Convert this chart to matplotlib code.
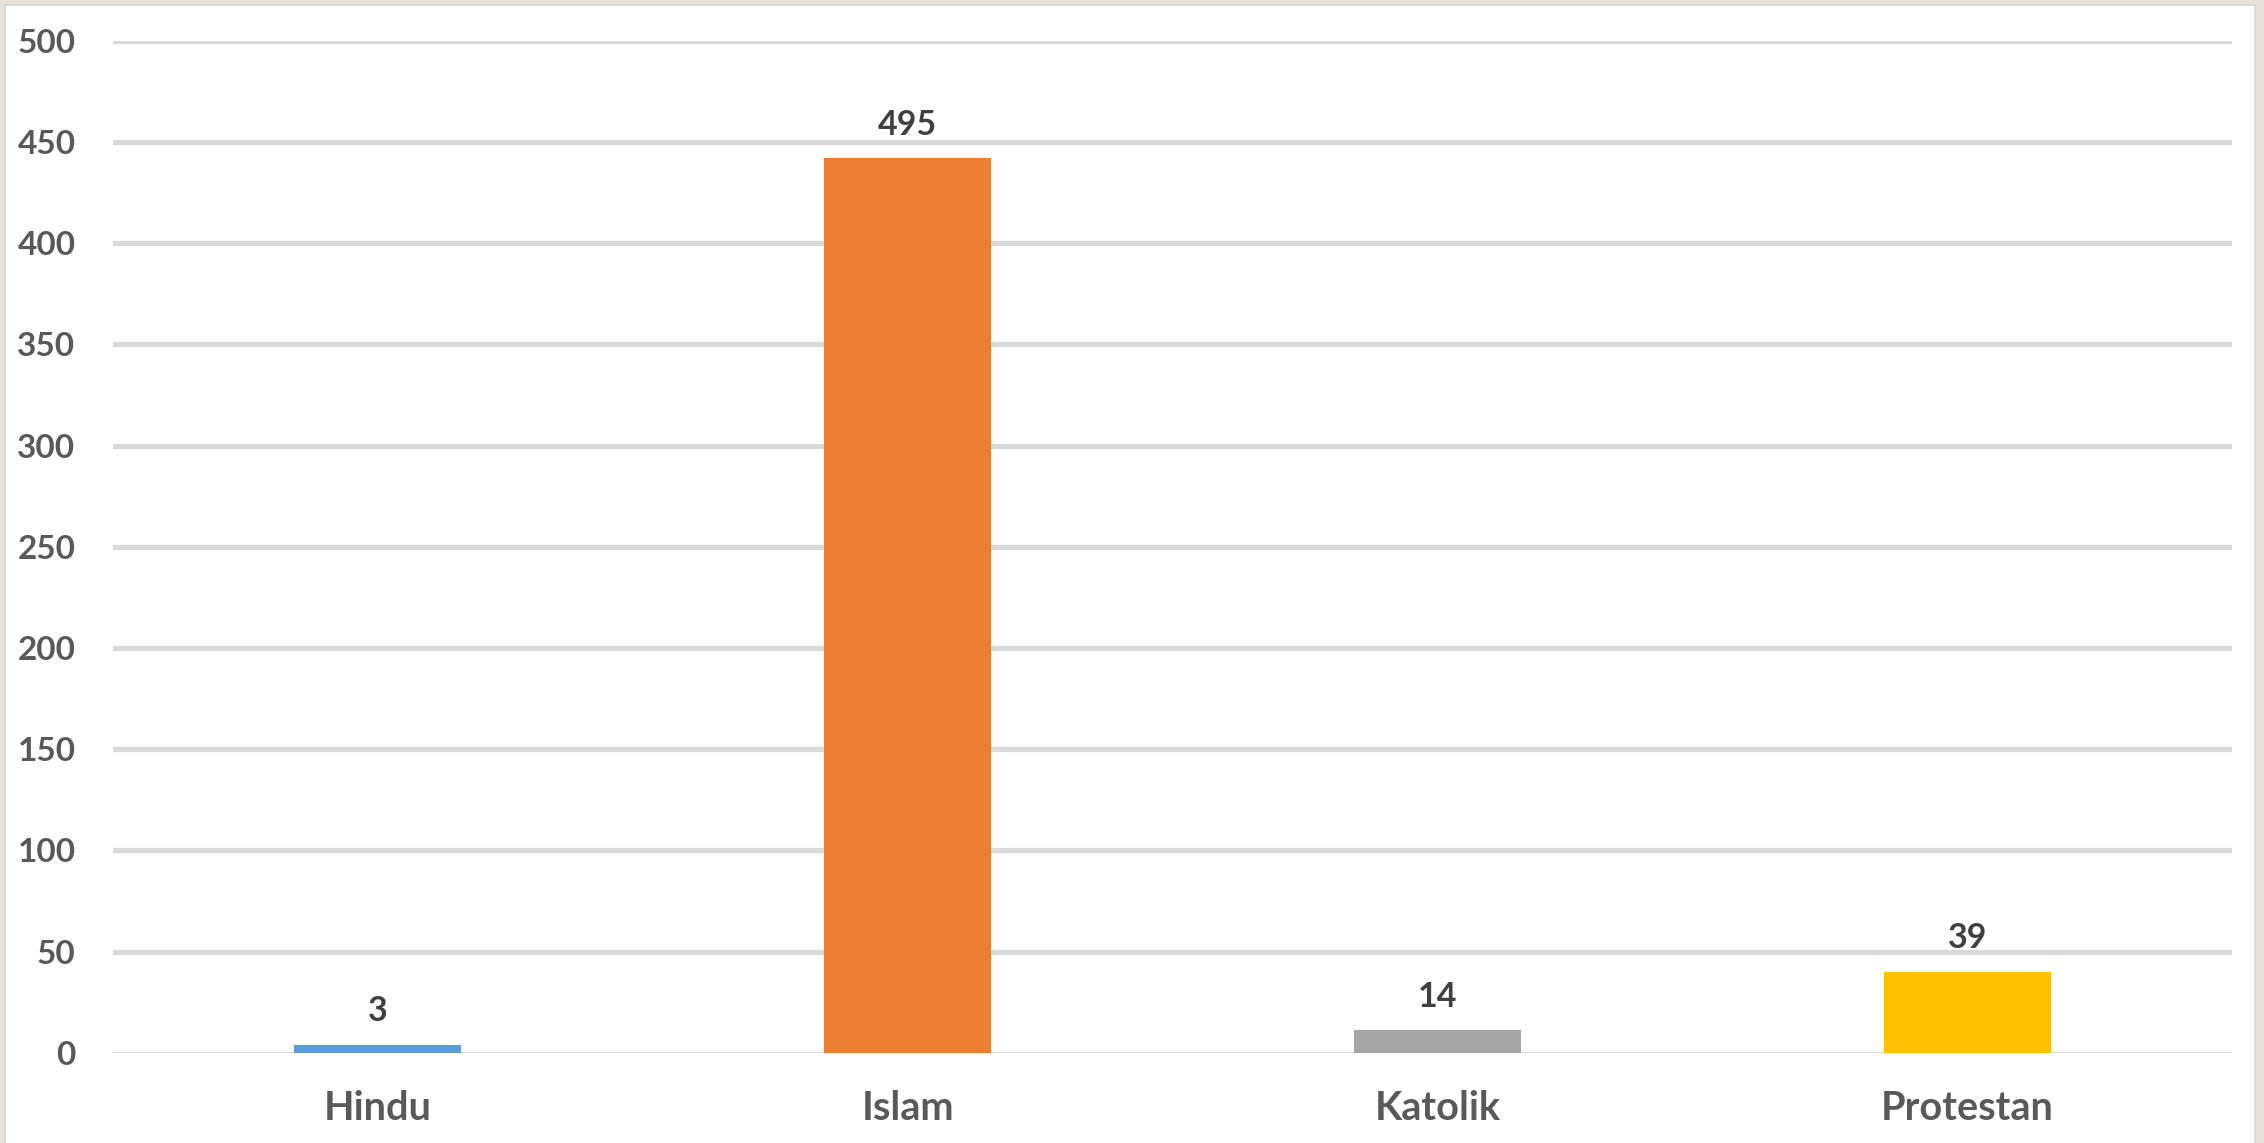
import matplotlib
matplotlib.use("Agg")
import matplotlib.pyplot as plt
from matplotlib.patches import Rectangle

categories = ["Hindu", "Islam", "Katolik", "Protestan"]
bar_heights = [4, 442, 11, 40]          # drawn bar heights as seen
value_labels = ["3", "495", "14", "39"]  # printed data labels
colors = ["#5B9BD5", "#ED7D31", "#A5A5A5", "#FFC000"]
yticks = [0, 50, 100, 150, 200, 250, 300, 350, 400, 450, 500]

W, H, DPI = 2264, 1143, 100
fig = plt.figure(figsize=(W / DPI, H / DPI), dpi=DPI)
fig.patch.set_facecolor("#E6E1D9")
# white chart area with thin grey edge
fig.patches.append(Rectangle((5 / W, -0.01), (2255 - 5) / W, (H - 5) / H + 0.01,
                             transform=fig.transFigure, facecolor="white",
                             edgecolor="#D6D6D6", linewidth=1.2, zorder=-5))

ax = fig.add_axes([113 / W, 90.3 / H, (2232 - 113) / W, (1102.3 - 90.3) / H])
ax.set_zorder(2)
ax.set_facecolor("none")
font = "Lato"
x = list(range(len(categories)))
ax.bar(x, bar_heights, width=0.315, color=colors, zorder=3)
ax.set_xlim(-0.5, len(categories) - 0.5)
ax.set_ylim(0, 500)
ax.set_yticks(yticks)
ax.set_yticklabels([str(v) for v in yticks], fontsize=24, fontweight="bold",
                   color="#595959", family=font)
ax.set_xticks(x)
ax.set_xticklabels(categories, fontsize=28.5, fontweight="bold",
                   color="#595959", family=font)
ax.tick_params(axis="both", length=0)
ax.tick_params(axis="y", pad=27)
ax.tick_params(axis="x", pad=27)
for s in ax.spines.values():
    s.set_visible(False)
for v in yticks:
    if v == 0:
        ax.axhline(v, color="#D9D9D9", linewidth=1.6, zorder=1)
    else:
        ax.axhline(v, color="#D9D9D9", linewidth=3.8, zorder=1)
for xi, h, lab in zip(x, bar_heights, value_labels):
    ax.annotate(lab, (xi, h), xytext=(0, 24), textcoords="offset points",
                ha="center", va="center", fontsize=24.5, fontweight="bold",
                color="#404040", family=font, zorder=4)

fig.savefig("out.png", dpi=DPI, facecolor=fig.get_facecolor())
